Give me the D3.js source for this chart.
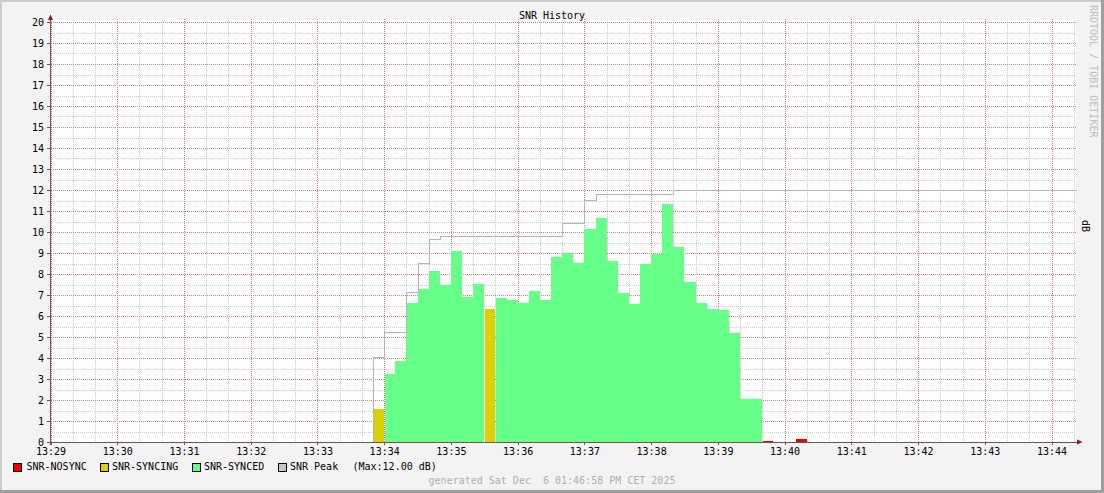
<!DOCTYPE html>
<html><head><meta charset="utf-8">
<script src="https://cdn.jsdelivr.net/npm/d3@7"></script>
<style>
html,body{margin:0;padding:0;background:#f3f3f3;}
svg{display:block;}
text{font-family:"DejaVu Sans Mono",monospace;}
</style></head>
<body>
<svg id="c" width="1104" height="493"></svg>
<script>
// ---------- data ----------
const title = "SNR History";
const barTimes = ["13:33:50","13:34:00","13:34:10","13:34:20","13:34:30","13:34:40","13:34:50",
  "13:35:00","13:35:10","13:35:20","13:35:30","13:35:40","13:35:50","13:36:00","13:36:10",
  "13:36:20","13:36:30","13:36:40","13:36:50","13:37:00","13:37:10","13:37:20","13:37:30",
  "13:37:40","13:37:50","13:38:00","13:38:10","13:38:20","13:38:30","13:38:40","13:38:50",
  "13:39:00","13:39:10","13:39:20","13:39:30","13:39:40","13:40:10"];
const barValues = [1.57,3.24,3.86,6.62,7.29,8.14,7.48,
  9.10,6.90,7.52,6.33,6.86,6.76,6.62,7.19,
  6.76,8.81,9.00,8.52,10.14,10.67,8.62,7.10,
  6.57,8.48,8.97,11.33,9.29,7.62,6.62,6.33,
  6.29,5.19,2.05,2.05,0.05,0.12];
const barStatus = ["SYNCING","SYNCED","SYNCED","SYNCED","SYNCED","SYNCED","SYNCED",
  "SYNCED","SYNCED","SYNCED","SYNCING","SYNCED","SYNCED","SYNCED","SYNCED",
  "SYNCED","SYNCED","SYNCED","SYNCED","SYNCED","SYNCED","SYNCED","SYNCED",
  "SYNCED","SYNCED","SYNCED","SYNCED","SYNCED","SYNCED","SYNCED","SYNCED",
  "SYNCED","SYNCED","SYNCED","SYNCED","NOSYNC","NOSYNC"];
const peakTimes  = ["13:33:50","13:33:50","13:34:00","13:34:20","13:34:30","13:34:40","13:34:50",
  "13:36:40","13:37:00","13:37:10","13:38:20","13:44:22"];
const peakValues = [0,4.05,5.24,7.14,8.52,9.67,9.81,10.44,11.52,11.80,12.00,12.00];
const xStart = "13:29:00", xEnd = "13:44:22";
const xTickLabels = ["13:29","13:30","13:31","13:32","13:33","13:34","13:35","13:36",
  "13:37","13:38","13:39","13:40","13:41","13:42","13:43","13:44"];
const yTicks = d3.range(0, 21, 1);
const legendItems = [
  {key:"NOSYNC", label:"SNR-NOSYNC"},
  {key:"SYNCING", label:"SNR-SYNCING"},
  {key:"SYNCED", label:"SNR-SYNCED"},
  {key:"PEAK", label:"SNR Peak"}];
const maxText = "(Max:12.00 dB)";
const footer = "generated Sat Dec  6 01:46:58 PM CET 2025";
const watermark = "RRDTOOL / TOBI OETIKER";
const yUnit = "dB";

// ---------- styles ----------
const colors = {NOSYNC:"#ee0000", SYNCING:"#ddd000", SYNCED:"#66ff88", PEAK:"#c8c8c8"};
const W = 1104, H = 493;
const L = 50.5, R = 1076, T = 22, B = 442;

const svg = d3.select("#c");
const parse = d3.timeParse("%H:%M:%S");
const pm = d3.timeParse("%H:%M");
const x = d3.scaleTime().domain([parse(xStart), parse(xEnd)]).range([L, R]);
const y = d3.scaleLinear().domain([0, 20]).range([B, T]);

// background + border shading
svg.append("rect").attr("width", W).attr("height", H).attr("fill", "#f3f3f3");
svg.append("rect").attr("x",0).attr("y",0).attr("width",W).attr("height",2).attr("fill","#cccccc");
svg.append("rect").attr("x",0).attr("y",0).attr("width",2).attr("height",H).attr("fill","#cccccc");
svg.append("rect").attr("x",0).attr("y",H-3).attr("width",W).attr("height",3).attr("fill","#9e9e9e");
svg.append("rect").attr("x",W-3).attr("y",0).attr("width",3).attr("height",H).attr("fill","#9e9e9e");

// plot area
svg.append("rect").attr("x", 51).attr("y", 19).attr("width", R - 51).attr("height", B - 19).attr("fill", "#ffffff");

const grid = svg.append("g").attr("shape-rendering","crispEdges");
// minor grid
const minorX = d3.timeSecond.every(20).range(parse(xStart), parse(xEnd)).filter(d => d.getSeconds() !== 0);
grid.selectAll(".mx").data(minorX).join("line")
  .attr("x1", d => Math.round(x(d)) + 0.5).attr("x2", d => Math.round(x(d)) + 0.5)
  .attr("y1", T - 2).attr("y2", B + 2)
  .attr("stroke", "#cccccc").attr("stroke-dasharray", "1,1");
const minorY = d3.range(0.5, 20, 1);
grid.selectAll(".my").data(minorY).join("line")
  .attr("x1", 48).attr("x2", R)
  .attr("y1", d => Math.round(y(d)) + 0.5).attr("y2", d => Math.round(y(d)) + 0.5)
  .attr("stroke", "#cccccc").attr("stroke-dasharray", "1,1");
// major grid
const majorX = xTickLabels.map(s => pm(s));
grid.selectAll(".Mx").data(majorX).join("line")
  .attr("x1", d => Math.round(x(d)) + 0.5).attr("x2", d => Math.round(x(d)) + 0.5)
  .attr("y1", T - 3).attr("y2", B + 3)
  .attr("stroke", "#e87c7c").attr("stroke-dasharray", "1,1");
grid.selectAll(".My").data(yTicks.filter(d => d > 0)).join("line")
  .attr("x1", 47).attr("x2", R)
  .attr("y1", d => Math.round(y(d)) + 0.5).attr("y2", d => Math.round(y(d)) + 0.5)
  .attr("stroke", "#e87c7c").attr("stroke-dasharray", "1,1");

// bars
const bars = barTimes.map((t, i) => ({t: parse(t), v: barValues[i], s: barStatus[i], prev: i > 0 ? barStatus[i-1] : null, prevT: i > 0 ? parse(barTimes[i-1]) : null}));
function barX0(d) {
  let x0 = Math.round(x(d.t));
  const contiguous = d.prevT && (d.t - d.prevT) === 10000;
  if (contiguous && d.prev !== d.s) x0 += 1;
  return x0;
}
svg.append("g").attr("shape-rendering","crispEdges").selectAll("rect").data(bars).join("rect")
  .attr("x", d => barX0(d))
  .attr("width", d => Math.round(x(d3.timeSecond.offset(d.t, 10))) - barX0(d))
  .attr("y", d => Math.round(y(d.v)))
  .attr("height", d => Math.max(1, B - Math.round(y(d.v))))
  .attr("fill", d => colors[d.s]);

// peak line
const peakData = peakTimes.map((t, i) => ({t: parse(t), v: peakValues[i]}));
svg.append("path").datum(peakData)
  .attr("d", d3.line().x(d => Math.round(x(d.t)) + 0.5).y(d => Math.round(y(d.v)) + 0.5).curve(d3.curveStepAfter))
  .attr("fill", "none").attr("stroke", "#b4b4b4").attr("stroke-width", 1)
  .attr("shape-rendering","crispEdges");

// axes
const axisColor = "#6e5555";
const ax = svg.append("g").attr("shape-rendering","crispEdges");
ax.append("line").attr("x1", 50.5).attr("x2", 50.5).attr("y1", B + 3).attr("y2", 18).attr("stroke", axisColor);
ax.append("line").attr("x1", 48).attr("x2", 1078).attr("y1", B + 0.5).attr("y2", B + 0.5).attr("stroke", axisColor);
ax.selectAll(".ty").data(yTicks).join("line")
  .attr("x1", 47).attr("x2", 51).attr("y1", d => Math.round(y(d)) + 0.5).attr("y2", d => Math.round(y(d)) + 0.5)
  .attr("stroke", axisColor);
ax.selectAll(".tx").data(majorX).join("line")
  .attr("x1", d => Math.round(x(d)) + 0.5).attr("x2", d => Math.round(x(d)) + 0.5)
  .attr("y1", B).attr("y2", B + 3).attr("stroke", axisColor);
svg.append("path").attr("d", "M48,20 L53,20 L50.5,14.5 Z").attr("fill", "#8b1a1a");
svg.append("path").attr("d", "M1077,439.5 L1077,444.5 L1082.5,442 Z").attr("fill", "#8b1a1a");

// tick labels
const fs = "10px";
svg.append("g").selectAll("text").data(yTicks).join("text")
  .attr("x", 44).attr("y", d => y(d) + 3.5).attr("text-anchor", "end")
  .attr("font-size", fs).attr("fill", "#000").text(d => d);
svg.append("g").selectAll("text").data(xTickLabels).join("text")
  .attr("x", s => x(pm(s)) + 0.5).attr("y", 455).attr("text-anchor", "middle")
  .attr("font-size", fs).attr("fill", "#000").text(s => s);

// title
svg.append("text").attr("x", 552).attr("y", 19).attr("text-anchor", "middle")
  .attr("font-size", "10px").attr("fill", "#000").text(title);

// watermark
svg.append("text").attr("transform", "translate(1089.5,5) rotate(90)")
  .attr("font-size", fs).attr("fill", "#bdbdbd").text(watermark);
// unit
svg.append("text").attr("transform", "translate(1082,226) rotate(90)")
  .attr("text-anchor", "middle").attr("font-size", fs).attr("fill", "#000").text(yUnit);

// legend
const legX = [13, 99.5, 192, 277.5];
const legTX = [26.5, 112, 204, 290];
const lg = svg.append("g");
legendItems.forEach((it, i) => {
  lg.append("rect").attr("x", legX[i] + 0.5).attr("y", 463.5).attr("width", 8).attr("height", 8)
    .attr("fill", colors[it.key]).attr("stroke", "#000").attr("stroke-width", 1).attr("shape-rendering","crispEdges");
  lg.append("text").attr("x", legTX[i]).attr("y", 470).attr("font-size", fs).attr("fill", "#000").text(it.label);
});
lg.append("text").attr("x", 352.5).attr("y", 470).attr("font-size", fs).attr("fill", "#000").text(maxText);

// footer
svg.append("text").attr("x", 552).attr("y", 484).attr("text-anchor", "middle")
  .attr("font-size", fs).attr("fill", "#b0b0b0").style("white-space","pre").text(footer);
</script>
</body></html>
